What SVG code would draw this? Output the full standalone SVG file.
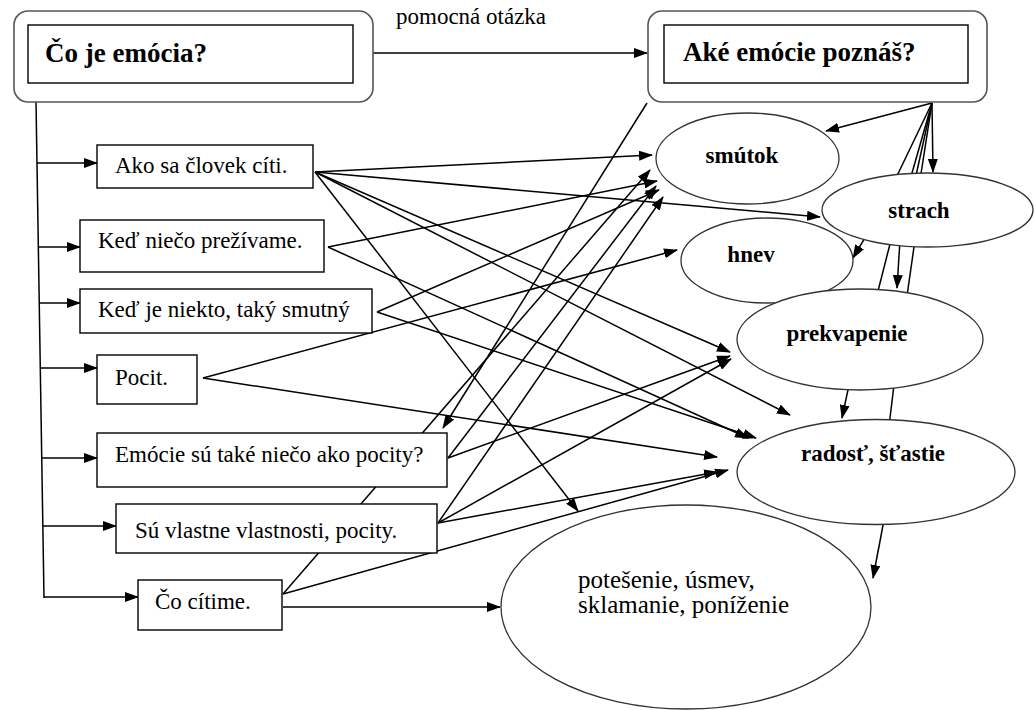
<svg xmlns="http://www.w3.org/2000/svg" width="1034" height="710" viewBox="0 0 1034 710">
<style>
text{font-family:"Liberation Serif","Times New Roman",Times,"DejaVu Serif",serif;fill:#000;}
.r{font-size:23px;}
.b{font-size:23px;font-weight:bold;}
.h{font-size:27px;font-weight:bold;}
.box{fill:#fff;stroke:#000;stroke-width:1.4;}
.outer{fill:#fff;stroke:#555;stroke-width:1.6;}
.ell{fill:#fff;stroke:#333;stroke-width:1.3;}
.c line{stroke:#000;stroke-width:1.5;fill:none;}
.a{marker-end:url(#ah);}
</style>
<defs>
<marker id="ah" markerWidth="14" markerHeight="10" refX="13" refY="5" orient="auto" markerUnits="userSpaceOnUse">
<path d="M0,0 L14,5 L0,10 z" fill="#000"/>
</marker>
</defs>
<rect width="1034" height="710" fill="#fff"/>
<g id="connectors" class="c">
<line class="a" x1="373" y1="53" x2="647" y2="53"/>
<line x1="36" y1="102" x2="44" y2="598"/>
<line class="a" x1="37" y1="163" x2="97" y2="163"/>
<line class="a" x1="38" y1="247" x2="80" y2="247"/>
<line class="a" x1="39" y1="303" x2="80" y2="303"/>
<line class="a" x1="40" y1="368" x2="97" y2="368"/>
<line class="a" x1="41" y1="458" x2="97" y2="458"/>
<line class="a" x1="43" y1="526" x2="116" y2="526"/>
<line class="a" x1="44" y1="597" x2="138" y2="597"/>
<line class="a" x1="932" y1="103" x2="826" y2="131"/>
<line class="a" x1="932" y1="103" x2="933" y2="172"/>
<line x1="932" y1="103" x2="895" y2="180"/>
<line x1="932" y1="103" x2="910" y2="180"/>
<line x1="932" y1="103" x2="915" y2="180"/>
<line x1="932" y1="103" x2="920" y2="180"/>
<line class="a" x1="647" y1="103" x2="443" y2="428"/>
<line class="a" x1="866" y1="236" x2="853" y2="258"/>
<line x1="891" y1="240" x2="877" y2="295"/>
<line class="a" x1="900" y1="240" x2="897" y2="288"/>
<line x1="915" y1="240" x2="907" y2="296"/>
<line class="a" x1="849" y1="385" x2="842" y2="418"/>
<line x1="894" y1="385" x2="889" y2="426"/>
<line class="a" x1="884" y1="520" x2="873" y2="578"/>
<line class="a" x1="315" y1="172" x2="652" y2="155"/>
<line class="a" x1="315" y1="172" x2="820" y2="217"/>
<line class="a" x1="315" y1="172" x2="730" y2="352"/>
<line class="a" x1="315" y1="172" x2="790" y2="415"/>
<line class="a" x1="315" y1="172" x2="578" y2="511"/>
<line class="a" x1="328" y1="247" x2="657" y2="181"/>
<line class="a" x1="328" y1="247" x2="748" y2="438"/>
<line class="a" x1="377" y1="312" x2="659" y2="190"/>
<line class="a" x1="377" y1="312" x2="756" y2="438"/>
<line class="a" x1="203" y1="378" x2="677" y2="250"/>
<line class="a" x1="203" y1="378" x2="717" y2="457"/>
<line class="a" x1="448" y1="458" x2="656" y2="186"/>
<line class="a" x1="448" y1="458" x2="730" y2="356"/>
<line class="a" x1="438" y1="523" x2="663" y2="197"/>
<line class="a" x1="438" y1="523" x2="731" y2="359"/>
<line class="a" x1="438" y1="523" x2="717" y2="472"/>
<line class="a" x1="283" y1="594" x2="650" y2="170"/>
<line class="a" x1="283" y1="594" x2="728" y2="470"/>
<line class="a" x1="283" y1="607" x2="500" y2="607"/>
</g>
<g id="n-co-je">
<rect class="outer" x="14" y="11" width="359" height="91" rx="14"/>
<rect class="box" x="28" y="25" width="325" height="58"/>
<text class="h" x="45" y="62">Čo je emócia?</text>
</g>
<g id="n-label">
<text class="r" x="396" y="24">pomocná otázka</text>
</g>
<g id="n-ake">
<rect class="outer" x="648" y="11" width="339" height="91" rx="14"/>
<rect class="box" x="664" y="25" width="304" height="58"/>
<text class="h" x="683" y="61">Aké emócie poznáš?</text>
</g>
<g id="n-ako">
<rect class="box" x="97" y="145" width="216" height="43"/>
<text class="r" x="115" y="173">Ako sa človek cíti.</text>
</g>
<g id="n-ked-nieco">
<rect class="box" x="80" y="220" width="244" height="52"/>
<text class="r" x="98" y="248">Keď niečo prežívame.</text>
</g>
<g id="n-ked-je">
<rect class="box" x="80" y="289" width="292" height="44"/>
<text class="r" x="98" y="317">Keď je niekto, taký smutný</text>
</g>
<g id="n-pocit">
<rect class="box" x="97" y="355" width="100" height="49"/>
<text class="r" x="115" y="385">Pocit.</text>
</g>
<g id="n-emocie">
<rect class="box" x="97" y="433" width="350" height="54"/>
<text class="r" x="115" y="462">Emócie sú také niečo ako pocity?</text>
</g>
<g id="n-su">
<rect class="box" x="116" y="504" width="321" height="49"/>
<text class="r" x="135" y="538">Sú vlastne vlastnosti, pocity.</text>
</g>
<g id="n-co-citime">
<rect class="box" x="138" y="580" width="144" height="50"/>
<text class="r" x="155" y="609">Čo cítime.</text>
</g>
<g id="n-smutok">
<ellipse class="ell" cx="747.5" cy="158.5" rx="91.5" ry="45.5"/>
<text class="b" x="742" y="163" text-anchor="middle">smútok</text>
</g>
<g id="n-strach">
<ellipse class="ell" cx="927.5" cy="210" rx="105.5" ry="37"/>
<text class="b" x="919" y="218" text-anchor="middle">strach</text>
</g>
<g id="n-hnev">
<ellipse class="ell" cx="767" cy="260.5" rx="86" ry="42.5"/>
<text class="b" x="751" y="262" text-anchor="middle">hnev</text>
</g>
<g id="n-prekvapenie">
<ellipse class="ell" cx="860" cy="339.5" rx="123" ry="50.5"/>
<text class="b" x="847" y="341" text-anchor="middle">prekvapenie</text>
</g>
<g id="n-radost">
<ellipse class="ell" cx="876" cy="472" rx="139" ry="52.5"/>
<text class="b" x="873" y="461" text-anchor="middle">radosť, šťastie</text>
</g>
<g id="n-potesenie">
<ellipse class="ell" cx="686" cy="607" rx="185" ry="102"/>
<text class="r" x="578" y="588" style="font-size:25px">potešenie, úsmev,</text>
<text class="r" x="578" y="613" style="font-size:25px">sklamanie, poníženie</text>
</g>
</svg>
